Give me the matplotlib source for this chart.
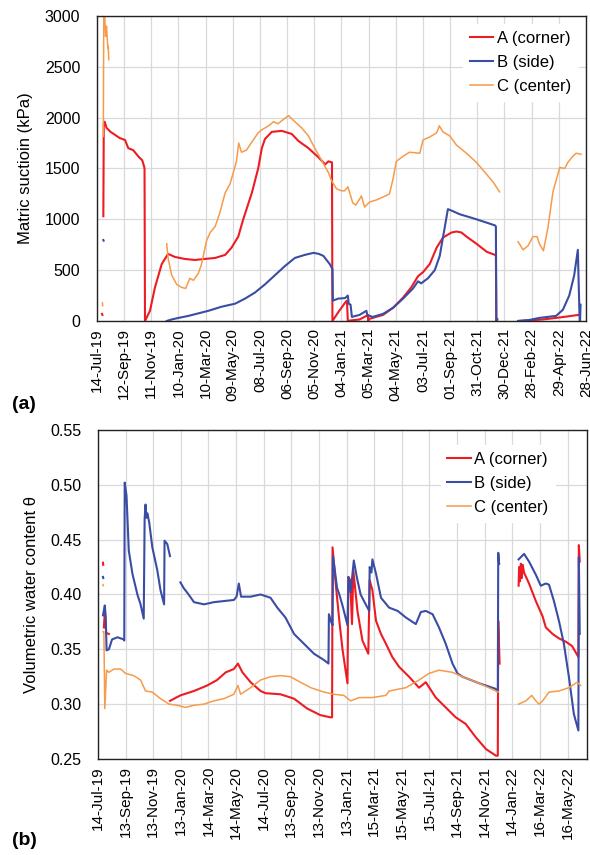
import matplotlib
matplotlib.use("Agg")
import matplotlib.pyplot as plt
import matplotlib.dates as mdates
import numpy as np
import pandas as pd

plt.rcParams['font.family'] = ['Liberation Sans', 'DejaVu Sans']

start = pd.Timestamp('2019-07-14')
nan = np.nan

# ---- (a) matric suction, kPa  (x = days since 14-Jul-19, nan = gap)
a_days = [11, 12, nan,
          14, 14.5, 15, 17, 21, 30, 40, 50, 62, 69, 80, 91, 100, 104, 105, 106, 117, 128, 143, 157, 172,
          194, 216, 238, 261, 283, 297, 312, 323, 342, 356, 364, 371, 386, 408, 430, 445, 467, 489, 504,
          511, 519, 520, 535, 548, 552, 554, 560, 580, 595, 598, 599, 601, 632, 654, 676, 694, 709, 720,
          735, 750, 764, 783, 794, 805, 816, 838, 861, 879, 881, 882, 884, nan,
          930, 955, 985, 1014, 1040, 1064]
a_kpa = [70, 60, nan,
         1030, 1500, 1950, 1960, 1900, 1860, 1830, 1800, 1780, 1700, 1680, 1620, 1580, 1520, 1500, 0, 100,
         330, 560, 660, 630, 610, 600, 610, 620, 650, 720, 830, 1000, 1260, 1500, 1700, 1790, 1860, 1870,
         1840, 1770, 1700, 1610, 1540, 1570, 1560, 0, 100, 180, 200, 0, 5, 15, 50, 60, 0, 20, 60, 130,
         230, 330, 440, 480, 560, 720, 820, 870, 880, 870, 830, 760, 680, 650, 640, 0, 20, nan,
         0, 5, 15, 30, 45, 60]

b_days = [14, 14.6, nan,
          154, 165, 180, 202, 224, 246, 275, 305, 327, 349, 371, 393, 415, 437, 459, 478, 490, 500, 514,
          520, 521, 533, 548, 554, 556, 560, 563, 580, 595, 597, 602, 609, 632, 654, 676, 698, 709, 716,
          731, 746, 757, 768, 775, 786, 801, 831, 852, 879, 881, 882, 884, nan,
          930, 955, 977, 1014, 1029, 1043, 1054, 1062, 1066, nan,
          1067, 1068]
b_kpa = [796, 790, nan,
         0, 15, 30, 50, 75, 100, 140, 170, 220, 280, 360, 450, 540, 620, 650, 670, 660, 640, 560, 510,
         200, 220, 225, 250, 170, 160, 40, 60, 100, 60, 50, 40, 70, 130, 220, 320, 390, 370, 420, 500,
         640, 920, 1100, 1080, 1050, 1010, 980, 940, 930, 0, 10, nan,
         0, 10, 30, 50, 110, 250, 450, 700, 0, nan,
         0, 160]

c_days = [12, 12.6, nan,
          14, 14.5, 15, 17, 19, 21, 24, 25, 26, nan,
          154, 157, 165, 176, 187, 196, 205, 213, 224, 231, 242, 250, 261, 271, 283, 294, 301, 308, 313,
          319, 330, 342, 356, 364, 379, 390, 400, 408, 423, 437, 452, 467, 481, 496, 511, 518, 529, 540,
          547, 554, 565, 572, 584, 591, 602, 617, 632, 646, 654, 661, 676, 690, 713, 720, 735, 750, 756,
          764, 779, 794, 816, 838, 861, 876, 889, nan,
          930, 941, 952, 963, 972, 977, 986, 996, 1007, 1022, 1033, 1040, 1051, 1058, 1069]
c_kpa = [178, 150, nan,
         1816, 2500, 3050, 3000, 2800, 2900, 2680, 2700, 2570, nan,
         760, 620, 450, 360, 330, 320, 420, 400, 470, 560, 790, 870, 930, 1060, 1260, 1350, 1460, 1570,
         1750, 1660, 1680, 1760, 1850, 1880, 1920, 1960, 1940, 1970, 2020, 1960, 1900, 1820, 1700, 1580,
         1460, 1380, 1300, 1280, 1280, 1320, 1160, 1140, 1230, 1120, 1170, 1190, 1220, 1250, 1400, 1570,
         1620, 1660, 1650, 1780, 1810, 1850, 1920, 1860, 1820, 1730, 1650, 1560, 1440, 1360, 1270, nan,
         780, 700, 740, 830, 830, 760, 690, 920, 1270, 1510, 1500, 1560, 1620, 1650, 1640]

# ---- (b) volumetric water content
a_th_days = [11, 11.6, nan,
             13, 15, 18, 24, nan,
             159, 182, 212, 241, 263, 282, 300, 309, 319, 337, 359, 370, 403, 433, 462, 491, 513, 517, 518,
             525, 533, 540, 551, 553, 557, 561, 564, 573, 584, 597, 600, 606, 614, 625, 636, 650, 665,
             687, 709, 724, 746, 768, 790, 812, 834, 857, 879, 883, 884, 887, nan,
             929, 930, 932, 934, 936, 938, 941, 952, 967, 982, 989, 1004, 1018, 1033, 1047, 1061, 1062, 1064]
a_theta = [0.429, 0.427, nan,
           0.37, 0.384, 0.365, 0.364, nan,
           0.303, 0.308, 0.312, 0.317, 0.322, 0.329, 0.332, 0.337, 0.329, 0.320, 0.312, 0.310, 0.309,
           0.305, 0.296, 0.290, 0.288, 0.288, 0.443, 0.41, 0.376, 0.35, 0.319, 0.416, 0.413, 0.373,
           0.422, 0.385, 0.358, 0.346, 0.413, 0.404, 0.376, 0.364, 0.355, 0.343, 0.334, 0.325, 0.315,
           0.320, 0.306, 0.297, 0.288, 0.282, 0.270, 0.259, 0.253, 0.253, 0.376, 0.337, nan,
           0.408, 0.425, 0.412, 0.428, 0.415, 0.427, 0.420, 0.410, 0.394, 0.380, 0.370, 0.364, 0.360,
           0.357, 0.353, 0.343, 0.445, 0.43]

b_th_days = [11, 11.6, nan,
             11, 15, 16, 17, 19, 24, 31, 43, 57, 58, 59, 63, 68, 76, 87, 94, 101, 103, 105, 107, 109, 113,
             120, 131, 138, 146, 147, 153, 159, nan,
             182, 189, 200, 212, 234, 256, 278, 300, 306, 311, 316, 337, 359, 381, 396, 414, 433, 455,
             477, 500, 509, 510, 515, 518, 519, 528, 533, 540, 551, 553, 558, 565, 572, 580, 590, 599,
             600, 604, 606, 614, 625, 643, 662, 680, 702, 713, 724, 739, 753, 768, 783, 794, 805, 842,
             878, 883, 884, 886, nan,
             929, 941, 952, 967, 978, 989, 996, 1007, 1018, 1029, 1040, 1051, 1061, 1062, 1064]
b_theta = [0.416, 0.415, nan,
           0.381, 0.390, 0.385, 0.38, 0.349, 0.350, 0.359, 0.361, 0.359, 0.358, 0.502, 0.49, 0.44,
           0.419, 0.40, 0.391, 0.378, 0.469, 0.482, 0.47, 0.474, 0.466, 0.443, 0.422, 0.404, 0.391,
           0.449, 0.446, 0.435, nan,
           0.411, 0.406, 0.400, 0.393, 0.391, 0.393, 0.394, 0.395, 0.398, 0.41, 0.398, 0.398, 0.400,
           0.397, 0.388, 0.379, 0.364, 0.355, 0.346, 0.340, 0.337, 0.382, 0.375, 0.372, 0.435, 0.406,
           0.40, 0.39, 0.372, 0.416, 0.402, 0.431, 0.415, 0.400, 0.392, 0.385, 0.425, 0.42, 0.432,
           0.419, 0.397, 0.388, 0.385, 0.379, 0.373, 0.384, 0.385, 0.382, 0.370, 0.355, 0.337, 0.328,
           0.325, 0.319, 0.314, 0.311, 0.438, 0.428, nan,
           0.432, 0.437, 0.430, 0.418, 0.408, 0.41, 0.409, 0.394, 0.376, 0.355, 0.325, 0.291, 0.276,
           0.434, 0.364]

c_th_days = [11, 11.6, nan,
             11, 13, 15, 19, 24, 35, 50, 61, 79, 94, 105, 120, 138, 157, 175, 193, 212, 234, 256, 278,
             300, 309, 315, 337, 359, 381, 403, 425, 447, 470, 499, 521, 543, 558, 577, 606, 636, 643,
             680, 709, 731, 753, 783, 805, 842, 884, nan,
             929, 945, 958, 967, 974, 982, 996, 1018, 1040, 1058, 1066]
c_theta = [0.409, 0.408, nan,
           0.366, 0.366, 0.296, 0.331, 0.329, 0.332, 0.332, 0.328, 0.326, 0.322, 0.312, 0.311, 0.305,
           0.300, 0.299, 0.297, 0.299, 0.300, 0.303, 0.305, 0.309, 0.317, 0.309, 0.315, 0.322, 0.325,
           0.326, 0.325, 0.320, 0.315, 0.311, 0.309, 0.308, 0.303, 0.306, 0.306, 0.308, 0.312, 0.315,
           0.322, 0.328, 0.331, 0.329, 0.325, 0.319, 0.311, nan,
           0.300, 0.303, 0.308, 0.303, 0.300, 0.303, 0.311, 0.312, 0.315, 0.320, 0.317]

labels = ['A (corner)', 'B (side)', 'C (center)']
colors = ['#ED1C24', '#3A4DA5', '#F79A4A']


def to_dates(days):
    return start + pd.to_timedelta(np.array(days, dtype=float), unit='D')


fig = plt.figure(figsize=(5.9, 8.55), dpi=100)
ax1 = fig.add_axes([0.1644, 0.6246, 0.8288, 0.3567])
ax2 = fig.add_axes([0.1661, 0.1123, 0.8288, 0.3848])


def style(ax, step, ylim, yticks, yfmt, ylabel, legpad, legx):
    end = start + pd.Timedelta(days=1080)
    ax.set_xlim(start, end)
    ticks = [start + pd.Timedelta(days=step * k) for k in range(int(1080 // step) + 1)]
    ax.set_xticks(ticks)
    ax.xaxis.set_major_formatter(mdates.DateFormatter('%d-%b-%y'))
    ax.tick_params(axis='x', rotation=90, labelsize=11, length=0, pad=5)
    ax.tick_params(axis='y', labelsize=11.5, length=0, pad=12)
    ax.set_ylim(*ylim)
    ax.set_yticks(yticks)
    ax.set_yticklabels([yfmt.format(v) for v in yticks])
    ax.grid(True, color='#d9d9d9', lw=0.9)
    ax.set_axisbelow(True)
    for s in ax.spines.values():
        s.set_color('#222222')
        s.set_linewidth(1.0)
    ax.set_ylabel(ylabel, fontsize=12)
    leg = ax.legend(loc='upper right', bbox_to_anchor=(legx, 1.0), fontsize=12, frameon=True,
                    handlelength=1.4, handletextpad=0.2, labelspacing=0.55, borderaxespad=legpad,
                    fancybox=False)
    leg.get_frame().set_edgecolor('white')
    leg.get_frame().set_alpha(1)


for d, v, lab, col, lw in zip([a_days, b_days, c_days], [a_kpa, b_kpa, c_kpa], labels, colors, [1.5, 1.5, 1.1]):
    ax1.plot(to_dates(d), v, color=col, lw=lw, label=lab)
style(ax1, 60, (0, 3000), list(range(0, 3001, 500)), '{:d}', 'Matric suctioin (kPa)', 0.5, 1.0)
ax1.yaxis.set_label_coords(-0.13, 0.5)

for d, v, lab, col, lw in zip([a_th_days, b_th_days, c_th_days], [a_theta, b_theta, c_theta], labels, colors, [1.5, 1.5, 1.1]):
    ax2.plot(to_dates(d), v, color=col, lw=lw, label=lab)
style(ax2, 61, (0.25, 0.55), [0.25, 0.30, 0.35, 0.40, 0.45, 0.50, 0.55], '{:.2f}', 'Volumetric water content θ', 0.9, 0.965)
ax2.yaxis.set_label_coords(-0.12, 0.5)

fig.text(0.02, 0.522, '(a)', fontsize=14, fontweight='bold')
fig.text(0.02, 0.012, '(b)', fontsize=14, fontweight='bold')

fig.savefig('out.png', dpi=100)
